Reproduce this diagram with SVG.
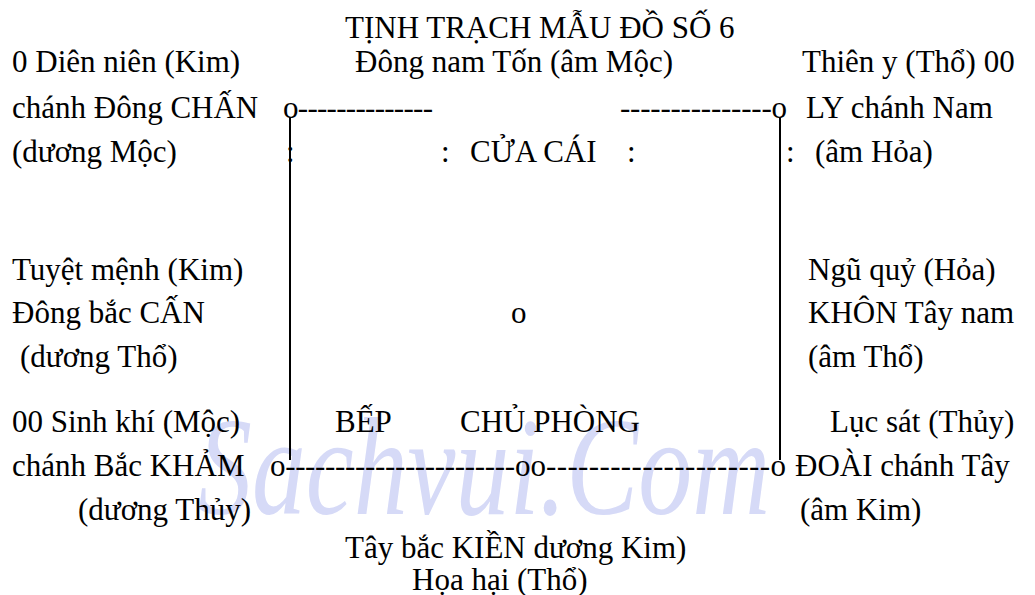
<svg xmlns="http://www.w3.org/2000/svg" width="1035" height="595" viewBox="0 0 1035 595">
<style>
text{font-family:"Liberation Serif","Times New Roman",serif;font-size:31px;fill:#000}
.wm{font-style:italic;font-size:140px;fill:#d6daf7}
.ln{stroke:#000;stroke-width:2;fill:none}
</style>
<rect width="1035" height="595" fill="#fff"/>
<text class="wm" x="198" y="514" textLength="572" lengthAdjust="spacingAndGlyphs">Sachvui.Com</text>
<g id="title"><text x="345" y="38">TỊNH TRẠCH MẪU ĐỒ SỐ 6</text></g>
<g id="connectors">
<line class="ln" x1="290" y1="117" x2="290" y2="460"/>
<line class="ln" x1="780" y1="117" x2="780" y2="460"/>
<text x="283" y="118" textLength="150" lengthAdjust="spacing">o--------------</text>
<text x="620" y="118" textLength="167" lengthAdjust="spacing">---------------o</text>
<text x="270" y="476" textLength="245" lengthAdjust="spacing">o-----------------------</text>
<text x="546" y="476" textLength="240" lengthAdjust="spacing">---------------------o</text>
<text x="286" y="162">:</text>
<text x="786" y="162">:</text>
</g>
<g id="node-chan">
<text x="12" y="72">0 Diên niên (Kim)</text>
<text x="12" y="118">chánh Đông CHẤN</text>
<text x="12" y="162">(dương Mộc)</text>
</g>
<g id="node-ton"><text x="355" y="72">Đông nam Tốn (âm Mộc)</text></g>
<g id="node-ly">
<text x="802" y="72">Thiên y (Thổ) 00</text>
<text x="806" y="118">LY chánh Nam</text>
<text x="815" y="162">(âm Hỏa)</text>
</g>
<g id="node-cua-cai">
<text x="441" y="162">:</text>
<text x="470" y="162">CỬA CÁI</text>
<text x="627" y="162">:</text>
</g>
<g id="node-can">
<text x="12" y="280">Tuyệt mệnh (Kim)</text>
<text x="12" y="323">Đông bắc CẤN</text>
<text x="20" y="367">(dương Thổ)</text>
</g>
<g id="node-center"><text x="511" y="323">o</text></g>
<g id="node-khon">
<text x="808" y="280">Ngũ quỷ (Hỏa)</text>
<text x="808" y="323">KHÔN Tây nam</text>
<text x="808" y="367">(âm Thổ)</text>
</g>
<g id="node-kham">
<text x="12" y="432">00 Sinh khí (Mộc)</text>
<text x="12" y="476">chánh Bắc KHẢM</text>
<text x="78" y="520">(dương Thủy)</text>
</g>
<g id="node-bep"><text x="335" y="432">BẾP</text></g>
<g id="node-chu-phong"><text x="460" y="432">CHỦ PHÒNG</text></g>
<g id="node-oo"><text x="515" y="476">oo</text></g>
<g id="node-doai">
<text x="830" y="432">Lục sát (Thủy)</text>
<text x="795" y="476">ĐOÀI chánh Tây</text>
<text x="800" y="520">(âm Kim)</text>
</g>
<g id="node-kien">
<text x="345" y="558">Tây bắc KIỀN dương Kim)</text>
<text x="412" y="590">Họa hại (Thổ)</text>
</g>
</svg>
